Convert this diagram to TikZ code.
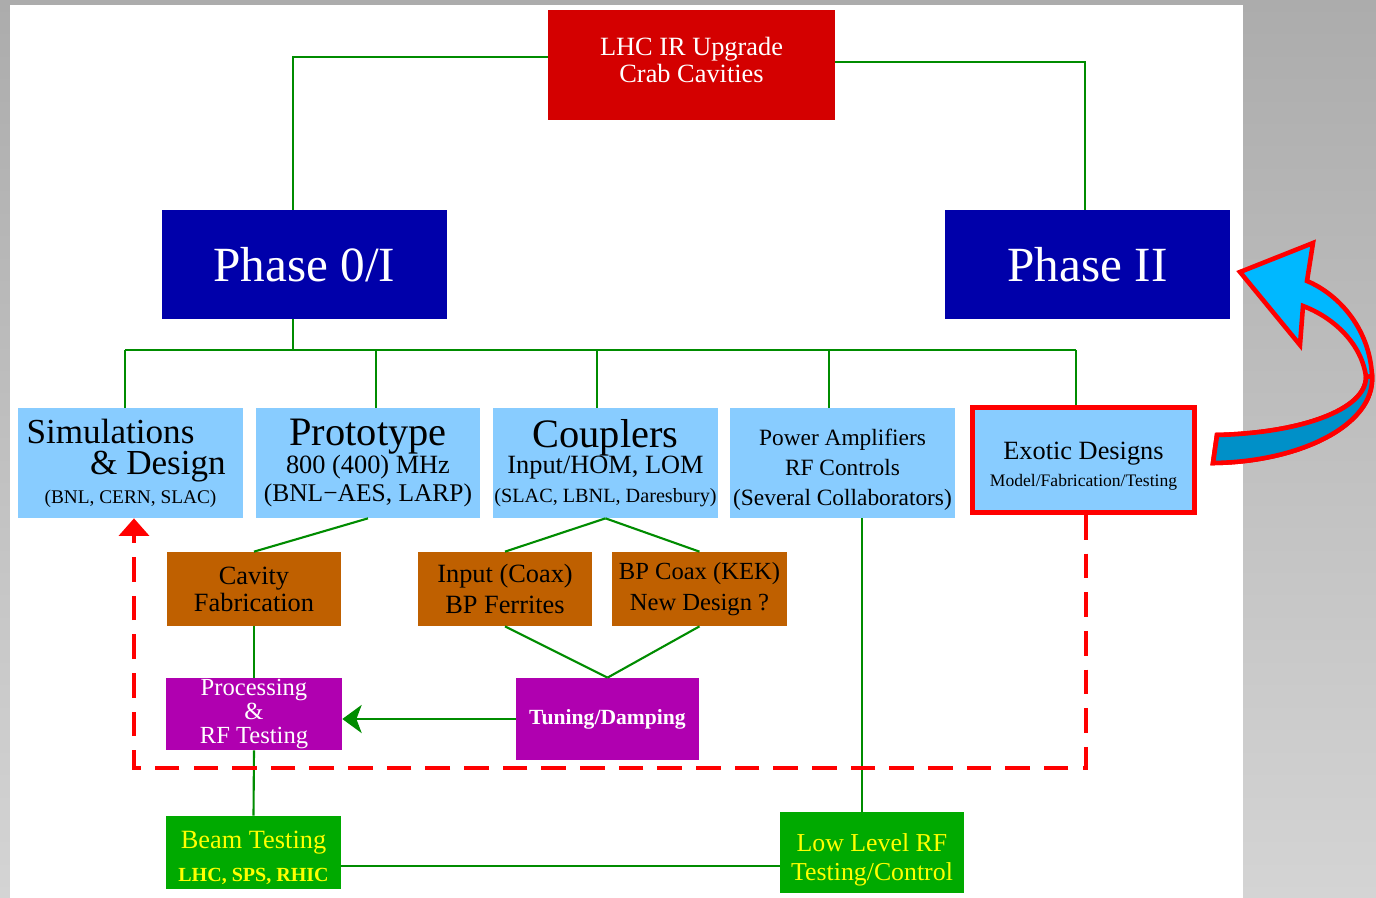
\documentclass[tikz,border=0pt]{standalone}
\usepackage{fontspec}
\setmainfont{Liberation Serif}
\usetikzlibrary{arrows.meta}

\definecolor{bgtop}{RGB}{172,172,172}
\definecolor{bgbot}{RGB}{212,212,212}
\definecolor{lhcred}{RGB}{212,0,0}
\definecolor{phaseblue}{RGB}{0,0,170}
\definecolor{skyblue}{RGB}{136,204,255}
\definecolor{workbrown}{RGB}{191,96,0}
\definecolor{procpurple}{RGB}{176,0,176}
\definecolor{testgreen}{RGB}{0,170,0}
\definecolor{testyellow}{RGB}{255,255,0}
\definecolor{linkgreen}{RGB}{0,140,0}
\definecolor{arrowcyan}{RGB}{0,184,255}
\definecolor{arrowdark}{RGB}{0,144,200}

\newcommand{\fsz}[2]{\fontsize{#1}{#2}\selectfont}

\begin{document}
\begin{tikzpicture}[x=0.02cm, y=-0.02cm,
		box/.style={rectangle, inner sep=0pt, align=center},
		topbox/.style={box, fill=lhcred, text=white, minimum width=5.74cm, minimum height=2.2cm},
		phasebox/.style={box, fill=phaseblue, text=white, minimum width=5.7cm, minimum height=2.18cm},
		subbox/.style={box, fill=skyblue, text=black, minimum width=4.5cm, minimum height=2.2cm},
		workbox/.style={box, fill=workbrown, text=black, minimum width=3.5cm, minimum height=1.48cm},
		procbox/.style={box, fill=procpurple, text=white},
		testbox/.style={box, fill=testgreen, text=testyellow},
		link/.style={draw=linkgreen, line width=1.2pt},
		redloop/.style={draw=red, line width=2.3pt, dash pattern=on 14pt off 8pt},
		swoosh/.style={draw=red, line width=2.6pt, line join=miter}]
		\useasboundingbox (0,0) rectangle (1376,898);
		% Background
		\shade[top color=bgtop, bottom color=bgbot] (0,0) rectangle (1376,898);
		\fill[white] (10,5) rectangle (1243,898);

		% Boxes
		\node[topbox, font=\fsz{15pt}{15.4pt}] (lhc) at (691.5,65) {LHC IR Upgrade\\Crab Cavities\rule[-6pt]{0pt}{6pt}};
		\node[phasebox, font=\fsz{28pt}{34pt}] (ph1) at (304.5,264.5) {Phase 0/I};
		\node[phasebox, font=\fsz{28pt}{34pt}] (ph2) at (1087.5,264.5) {Phase II};

		\node[subbox, font=\fsz{20pt}{18pt}] (sim) at (130.5,463) {Simulations\hspace*{0.8cm}\\\hspace*{1.1cm}\& Design\\[-2pt]{\fsz{11pt}{17pt}(BNL, CERN, SLAC)}};
		\node[subbox, minimum width=4.48cm, font=\fsz{15pt}{15pt}] (proto) at (368,463) {{\fsz{23pt}{15pt}Prototype}\\800 (400) MHz\\[1pt]{\fsz{14.5pt}{15pt}(BNL−AES, LARP)}};
		\node[subbox, font=\fsz{15pt}{15pt}] (coup) at (605.5,463) {{\fsz{23pt}{15pt}Couplers}\\Input/HOM, LOM\\[1pt]{\fsz{11.5pt}{15pt}(SLAC, LBNL, Daresbury)}};
		\node[subbox, font=\fsz{13.3pt}{17pt}] (power) at (842.5,463) {\rule{0pt}{17pt}Power Amplifiers\\RF Controls\\(Several Collaborators)};
		\node[subbox, draw=red, line width=2.8pt, minimum width=4.44cm, minimum height=2.1cm, font=\fsz{15pt}{15pt}] (exotic) at (1083.5,460) {\rule{0pt}{17pt}Exotic Designs\\{\fsz{10pt}{14pt}Model/Fabrication/Testing}};

		\node[workbox, font=\fsz{15pt}{15.4pt}] (cav) at (254,589) {Cavity\\Fabrication};
		\node[workbox, minimum width=3.48cm, font=\fsz{15pt}{18pt}] (inp) at (505,589) {Input (Coax)\\BP Ferrites};
		\node[workbox, font=\fsz{14pt}{18pt}] (bpc) at (699.5,589) {BP Coax (KEK)\\New Design ?};

		\node[procbox, minimum width=3.52cm, minimum height=1.44cm, font=\fsz{14pt}{13.5pt}] (proc) at (254,714) {Processing\\\&\\RF Testing};
		\node[procbox, minimum width=3.66cm, minimum height=1.64cm, font=\fsz{12.3pt}{14pt}\bfseries] (tun) at (607.5,719) {Tuning/Damping};

		\node[testbox, minimum width=3.5cm, minimum height=1.46cm, font=\fsz{15pt}{19pt}] (beam) at (253.5,852.5) {\rule{0pt}{16pt}Beam Testing\\{\fsz{11.4pt}{19pt}\bfseries LHC, SPS, RHIC}};
		\node[testbox, minimum width=3.68cm, minimum height=1.62cm, font=\fsz{14.7pt}{16.5pt}] (llrf) at (872,852.5) {\rule{0pt}{18pt}Low Level RF\\Testing/Control};

		% Tree
		\draw[link] ([yshift=0.16cm]lhc.west) -| ([xshift=-0.23cm]ph1.north);
		\draw[link] ([yshift=0.06cm]lhc.east) -| ([xshift=-0.05cm]ph2.north);
		\draw[link] ([xshift=-0.23cm]ph1.south) -- ++(0,31);
		\draw[link] (125,350) -- (1076,350);
		\foreach \bx/\nd in {125/sim, 376/proto, 597/coup, 829/power, 1076/exotic}
			\draw[link] (\bx,350) -- (\bx,350 |- \nd.north);

		\draw[link] (proto.south) -- (cav.north);
		\draw[link] (coup.south) -- (inp.north);
		\draw[link] (coup.south) -- (bpc.north);
		\draw[link] (inp.south) -- (tun.north);
		\draw[link] (bpc.south) -- (tun.north);
		\draw[link] (cav.south) -- (proc.north);
		\draw[link, -{Stealth[length=11pt, width=16pt, inset=3pt]}] (tun.west) -- (tun.west -| proc.east);
		\draw[link] (proc.south) -- (beam.north);
		\draw[link] ([xshift=0.39cm]power.south) -- ([xshift=0.39cm]power.south |- llrf.north);
		\draw[link] ([yshift=-0.27cm]beam.east) -- ([yshift=-0.27cm]beam.east -| llrf.west);

		% Exotic loop back
		\coordinate (loopc) at (134,768);
		\draw[redloop, -{Triangle[length=10pt, width=17pt]}] ([xshift=0.05cm]exotic.south) |- (loopc) -- (loopc |- sim.south);

		% Bent arrow to Phase II
		\path[swoosh, fill=arrowcyan] (1213,463) .. controls (1300,462) and (1375,425) .. (1372,376)
			.. controls (1370,330) and (1340,295) .. (1307,281) -- (1313,243) -- (1240,272) -- (1300,345) -- (1303,306)
			.. controls (1335,318) and (1362,345) .. (1366,377) .. controls (1366,410) and (1300,433) .. (1217,435) -- cycle;
		\path[swoosh, fill=arrowdark] (1213,463) .. controls (1300,462) and (1375,425) .. (1372,376)
			-- (1366,377) .. controls (1366,410) and (1300,433) .. (1217,435) -- cycle;
	\end{tikzpicture}
\end{document}
